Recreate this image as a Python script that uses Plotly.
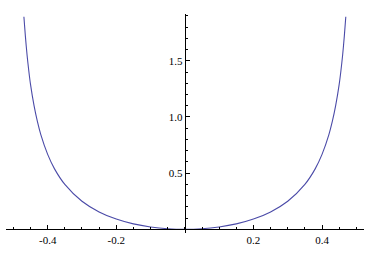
import plotly.graph_objects as go

# values
x_left = [-0.4693, -0.465, -0.46, -0.455, -0.45, -0.44, -0.43, -0.42, -0.4, -0.38, -0.35,
          -0.3, -0.25, -0.2, -0.15, -0.1, -0.05, 0.0]
y_left = [1.893, 1.72, 1.55, 1.41, 1.29, 1.105, 0.96, 0.843, 0.667, 0.538, 0.40,
          0.25, 0.155, 0.091, 0.048, 0.021, 0.005, 0.0]
x_right = [0.05, 0.1, 0.15, 0.2, 0.25, 0.3, 0.35, 0.38, 0.4, 0.42, 0.43, 0.44,
           0.45, 0.455, 0.46, 0.465, 0.4693]
y_right = [0.005, 0.021, 0.048, 0.091, 0.155, 0.25, 0.40, 0.538, 0.667, 0.843, 0.96, 1.105,
           1.29, 1.41, 1.55, 1.72, 1.893]

x_ticks = [-0.4, -0.2, 0.2, 0.4]
x_tick_text = ["-0.4", "-0.2", "0.2", "0.4"]
y_ticks = [0.5, 1.0, 1.5]
y_tick_text = ["0.5", "1.0", "1.5"]

W, H = 382, 253
fig = go.Figure()
fig.add_trace(go.Scatter(
    x=x_left + x_right, y=y_left + y_right, mode="lines",
    line=dict(color="#4b4ba8", width=1.1, shape="spline", smoothing=0.8),
    hoverinfo="skip", showlegend=False))

font = dict(family="Liberation Serif", size=11, color="black")
fig.update_layout(
    width=W, height=H, margin=dict(l=0, r=0, t=0, b=0),
    paper_bgcolor="white", plot_bgcolor="white",
    xaxis=dict(range=[-0.5215, 0.5215], domain=[6 / W, 363.7 / W],
               anchor="free", position=(H - 229.3) / H,
               showline=True, linecolor="black", linewidth=1,
               showgrid=False, zeroline=False,
               tickmode="array", tickvals=x_ticks, ticktext=x_tick_text,
               ticks="inside", ticklen=4, tickcolor="black", tickwidth=1,
               minor=dict(tickmode="linear", tick0=0, dtick=0.05, ticks="inside",
                          ticklen=2.3, tickcolor="black", tickwidth=1, showgrid=False),
               tickfont=font, fixedrange=True),
    yaxis=dict(range=[-0.033, 1.917], domain=[(H - 233) / H, (H - 14) / H],
               anchor="free", position=184.8 / W,
               showline=True, linecolor="black", linewidth=1,
               showgrid=False, zeroline=False,
               tickmode="array", tickvals=y_ticks, ticktext=y_tick_text,
               ticks="inside", ticklen=4.5, tickcolor="black", tickwidth=1,
               minor=dict(tickmode="linear", tick0=0, dtick=0.1, ticks="inside",
                          ticklen=2.5, tickcolor="black", tickwidth=1, showgrid=False),
               tickfont=font, fixedrange=True),
)
fig.write_html("out.html", config={"displayModeBar": False})
